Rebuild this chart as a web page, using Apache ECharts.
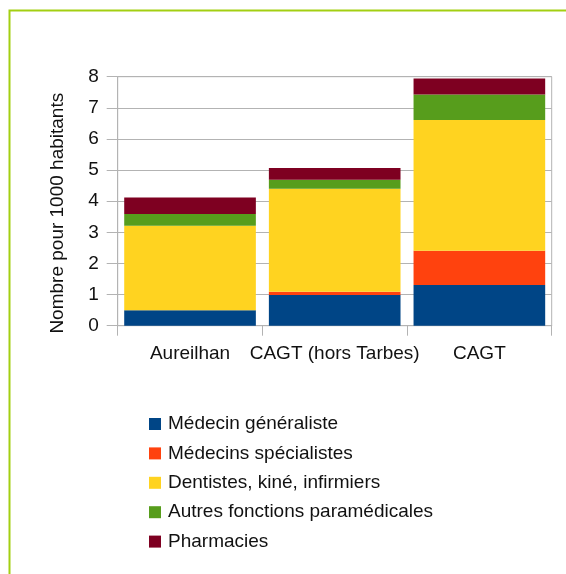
<!DOCTYPE html>
<html>
<head>
<meta charset="utf-8">
<script src="https://cdn.jsdelivr.net/npm/echarts@6/dist/echarts.min.js"></script>
<style>
  html, body { margin: 0; padding: 0; background: #fff; }
  #chart { width: 566px; height: 574px; }
</style>
</head>
<body>
<div id="chart"></div>
<script>
// Data
var categories = ['Aureilhan', 'CAGT (hors Tarbes)', 'CAGT'];
var medecinGeneraliste = [0.5, 0.99, 1.31];
var medecinsSpecialistes = [0, 0.1, 1.1];
var dentistesKineInfirmiers = [2.71, 3.31, 4.2];
var autresParamedicales = [0.38, 0.29, 0.82];
var pharmacies = [0.53, 0.38, 0.51];
var yTicks = [0, 1, 2, 3, 4, 5, 6, 7, 8];

var font = '"Liberation Sans", Arial, sans-serif';
var grey = '#b3b3b3';

function makeSeries(name, data, color) {
  return {
    name: name,
    type: 'bar',
    stack: 'total',
    data: data,
    barCategoryGap: '9%',
    itemStyle: { color: color },
    emphasis: { disabled: true }
  };
}

var myChart = echarts.init(document.getElementById('chart'));
var option = {
  backgroundColor: '#fff',
  animation: false,
  textStyle: { fontFamily: font, color: '#000' },
  // green frame (partly cut off at right and bottom)
  graphic: [
    {
      type: 'rect',
      shape: { x: 9.5, y: 10.5, width: 700, height: 700 },
      style: { fill: 'none', stroke: '#a3cf12', lineWidth: 2 },
      z: 0
    }
  ],
  grid: {
    left: 117.7,
    right: 14.3,
    top: 76.7,
    bottom: 248.3,
    show: true,
    borderColor: grey,
    borderWidth: 1
  },
  legend: {
    orient: 'vertical',
    left: 144,
    top: 409.5,
    itemWidth: 12,
    itemHeight: 12,
    itemGap: 10.4,
    icon: 'rect',
    textStyle: { fontFamily: font, fontSize: 19, color: '#111', padding: [0, 0, 0, 2] },
    data: ['Médecin généraliste', 'Médecins spécialistes', 'Dentistes, kiné, infirmiers',
      'Autres fonctions paramédicales', 'Pharmacies']
  },
  xAxis: {
    type: 'category',
    data: categories,
    axisLine: { lineStyle: { color: grey } },
    axisTick: { show: true, length: 10, lineStyle: { color: grey } },
    axisLabel: { fontFamily: font, fontSize: 19, color: '#111', margin: 19, interval: 0 }
  },
  yAxis: {
    type: 'value',
    min: yTicks[0],
    max: yTicks[yTicks.length - 1],
    interval: 1,
    name: 'Nombre pour 1000 habitants',
    nameLocation: 'middle',
    nameGap: 50,
    nameTextStyle: { fontFamily: font, fontSize: 19, color: '#111', padding: [0, 24, 0, 0] },
    axisLine: { show: true, lineStyle: { color: grey } },
    axisTick: { show: true, length: 11, lineStyle: { color: grey } },
    axisLabel: { fontFamily: font, fontSize: 19, color: '#111', margin: 19 },
    splitLine: { lineStyle: { color: grey } }
  },
  series: [
    makeSeries('Médecin généraliste', medecinGeneraliste, '#004586'),
    makeSeries('Médecins spécialistes', medecinsSpecialistes, '#ff420e'),
    makeSeries('Dentistes, kiné, infirmiers', dentistesKineInfirmiers, '#ffd320'),
    makeSeries('Autres fonctions paramédicales', autresParamedicales, '#579d1c'),
    makeSeries('Pharmacies', pharmacies, '#7e0021')
  ]
};
myChart.setOption(option);
</script>
</body>
</html>
